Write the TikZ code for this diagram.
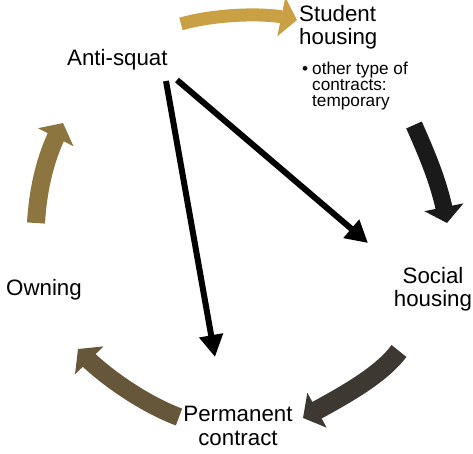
\documentclass[tikz,border=0pt]{standalone}
\usepackage{fontspec}
\setmainfont{Liberation Sans}
\usetikzlibrary{arrows.meta,bending}
\definecolor{cgold}{RGB}{201,161,68}
\definecolor{cblack}{RGB}{26,26,26}
\definecolor{cdark}{RGB}{62,56,50}
\definecolor{cbrown}{RGB}{102,86,58}
\definecolor{colive}{RGB}{140,117,62}
\begin{document}
\begin{tikzpicture}[x=1pt,y=-1pt,
  lbl/.style={font=\fontsize{22.3}{23.5}\selectfont, inner sep=0pt},
  sublbl/.style={font=\fontsize{17.2}{16}\selectfont, inner sep=0pt, align=left},
  cycarrow/.style={line width=#1, -{Triangle[length=16pt,width=39pt]}},
  link/.style={draw=black, line width=6pt, -{Triangle[length=22pt,width=23pt]}}]
\useasboundingbox (0,0) rectangle (473,454);

% labels of the cycle (multi-line nodes sit on the baseline of their last line)
\node[lbl, anchor=base west] (anti) at (67,66) {Anti-squat};
\node[lbl, anchor=base west, align=left] (student) at (299,45) {Student\\housing};
\node[sublbl, anchor=base west] (note) at (302,107)
  {\makebox[10pt][l]{•}other type of\\\hspace*{10pt}contracts:\\\hspace*{10pt}temporary};
\node[lbl, anchor=base, align=center] (social) at (433,306.7) {Social\\housing};
\node[lbl, anchor=base, align=center] (perm) at (238,445) {Permanent\\contract};
\node[lbl, anchor=base west] (own) at (6,295) {Owning};

% ends of the curved cycle arrows
\coordinate (g0) at (181,24);  \coordinate (g1) at (297,20);
\coordinate (b0) at (414,125); \coordinate (b1) at (447,223);
\coordinate (d0) at (399,351); \coordinate (d1) at (303,418);
\coordinate (r0) at (179,417); \coordinate (r1) at (78,349);
\coordinate (o0) at (36,223);  \coordinate (o1) at (63,123);

\draw[cycarrow=13pt, cgold]  (g0) .. controls +(30,-9) and +(-30,-9) .. (g1);
\draw[cycarrow=17pt, cblack] (b0) .. controls +(16,36) and +(-6,-35) .. (b1);
\draw[cycarrow=19pt, cdark]  (d0) .. controls +(-21,28) and +(30,-17) .. (d1);
\draw[cycarrow=18pt, cbrown] (r0) .. controls +(-33,-12) and +(23,26) .. (r1);
\draw[cycarrow=18pt, colive] (o0) .. controls +(2,-35) and +(-17,30) .. (o1);

% links from anti-squat
\coordinate (s1) at (166,81);
\coordinate (s2) at (177,80);
\coordinate (pc) at (215,357);
\coordinate (sh) at (368,243);
\draw[link] (s1) -- (pc);
\draw[link] (s2) -- (sh);
\end{tikzpicture}
\end{document}
